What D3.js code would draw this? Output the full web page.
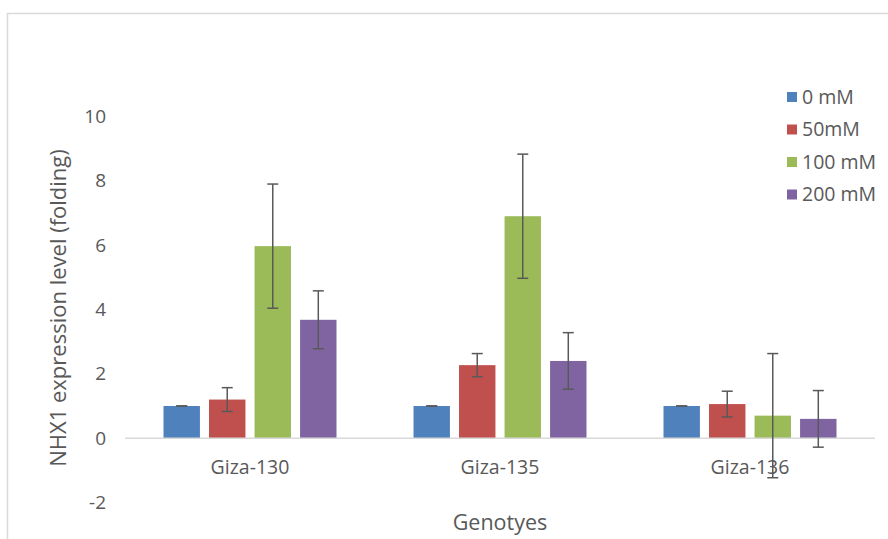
<!DOCTYPE html>
<html><head><meta charset="utf-8">
<script src="https://cdn.jsdelivr.net/npm/d3@7"></script>
<style>body{margin:0;background:#fff;}svg{display:block;}</style>
</head><body>
<script>
const categories = ["Giza-130", "Giza-135", "Giza-136"];
const seriesNames = ["0 mM", "50mM", "100 mM", "200 mM"];
const seriesColors = ["#4F81BD", "#C0504D", "#9BBB59", "#8064A2"];
const values0 = [1.0, 1.0, 1.0];
const values50 = [1.2, 2.27, 1.06];
const values100 = [5.97, 6.9, 0.7];
const values200 = [3.68, 2.4, 0.6];
const err0 = [0.0, 0.0, 0.0];
const err50 = [0.37, 0.36, 0.4];
const err100 = [1.93, 1.93, 1.93];
const err200 = [0.9, 0.88, 0.88];
const yTicks = [-2, 0, 2, 4, 6, 8, 10];

const W = 888, H = 539;
const svg = d3.select("body").append("svg").attr("width", W).attr("height", H);
const font = "'Open Sans', 'Liberation Sans', sans-serif";
const txt = "#595959";

svg.append("rect").attr("x", 7.5).attr("y", 13.5).attr("width", 1000).attr("height", 1000)
  .attr("fill", "#fff").attr("stroke", "#d9d9d9").attr("stroke-width", 1.5);

const y = d3.scaleLinear().domain([-2, 10]).range([502.5, 116.5]);
const x0 = d3.scaleBand().domain(categories).range([125, 875]).padding(0);
const x1 = d3.scaleBand().domain(seriesNames).range([38.5, 211.5]).paddingInner(0.2).paddingOuter(0);

const vals = [values0, values50, values100, values200];
const errs = [err0, err50, err100, err200];
const data = [];
categories.forEach((c, i) => seriesNames.forEach((s, j) => data.push({c, s, j, v: vals[j][i], e: errs[j][i]})));

// y tick labels
const yAxis = d3.axisLeft(y).tickValues(yTicks).tickSize(0).tickPadding(0).tickFormat(d => String(d));
const ya = svg.append("g").attr("transform", "translate(106,0)").call(yAxis);
ya.select(".domain").remove();
ya.selectAll("text").attr("font-family", font).attr("font-size", 19).attr("fill", txt);

// bars
svg.append("g").selectAll("rect").data(data).join("rect")
  .attr("x", d => x0(d.c) + x1(d.s))
  .attr("width", x1.bandwidth())
  .attr("y", d => y(Math.max(0, d.v)))
  .attr("height", d => Math.abs(y(d.v) - y(0)))
  .attr("fill", d => seriesColors[d.j]);

// zero line
svg.append("line").attr("x1", 125).attr("x2", 875).attr("y1", y(0)).attr("y2", y(0))
  .attr("stroke", "#d9d9d9").attr("stroke-width", 1.5);

// category labels
const xAxis = d3.axisBottom(x0).tickSize(0).tickPadding(0);
const xa = svg.append("g").attr("transform", "translate(0,474)").call(xAxis);
xa.select(".domain").remove();
xa.selectAll("text").attr("y", 0).attr("dy", "0").attr("font-family", font).attr("font-size", 19.5).attr("fill", txt);

// error bars
const eg = svg.append("g").attr("stroke", "#595959").attr("stroke-width", 1.5);
data.forEach(d => {
  const cx = x0(d.c) + x1(d.s) + x1.bandwidth() / 2;
  const t = y(d.v + d.e), b = y(d.v - d.e);
  eg.append("line").attr("x1", cx).attr("x2", cx).attr("y1", t).attr("y2", b);
  eg.append("line").attr("x1", cx - 5.5).attr("x2", cx + 5.5).attr("y1", t).attr("y2", t);
  eg.append("line").attr("x1", cx - 5.5).attr("x2", cx + 5.5).attr("y1", b).attr("y2", b);
});

// axis titles
svg.append("text").attr("x", 500).attr("y", 530).attr("text-anchor", "middle")
  .attr("font-family", font).attr("font-size", 21.5).attr("fill", txt).text("Genotyes");
svg.append("text").attr("transform", "translate(66,308) rotate(-90)").attr("text-anchor", "middle")
  .attr("font-family", font).attr("font-size", 22).attr("fill", txt).text("NHX1 expression level (folding)");

// legend
const lg = svg.append("g");
seriesNames.forEach((s, j) => {
  const cy = 97 + j * 32.5;
  lg.append("rect").attr("x", 787).attr("y", cy - 5).attr("width", 10).attr("height", 10).attr("fill", seriesColors[j]);
  lg.append("text").attr("x", 802).attr("y", cy).attr("dy", "0.35em")
    .attr("font-family", font).attr("font-size", 19.5).attr("fill", txt).text(s);
});
</script>
</body></html>
